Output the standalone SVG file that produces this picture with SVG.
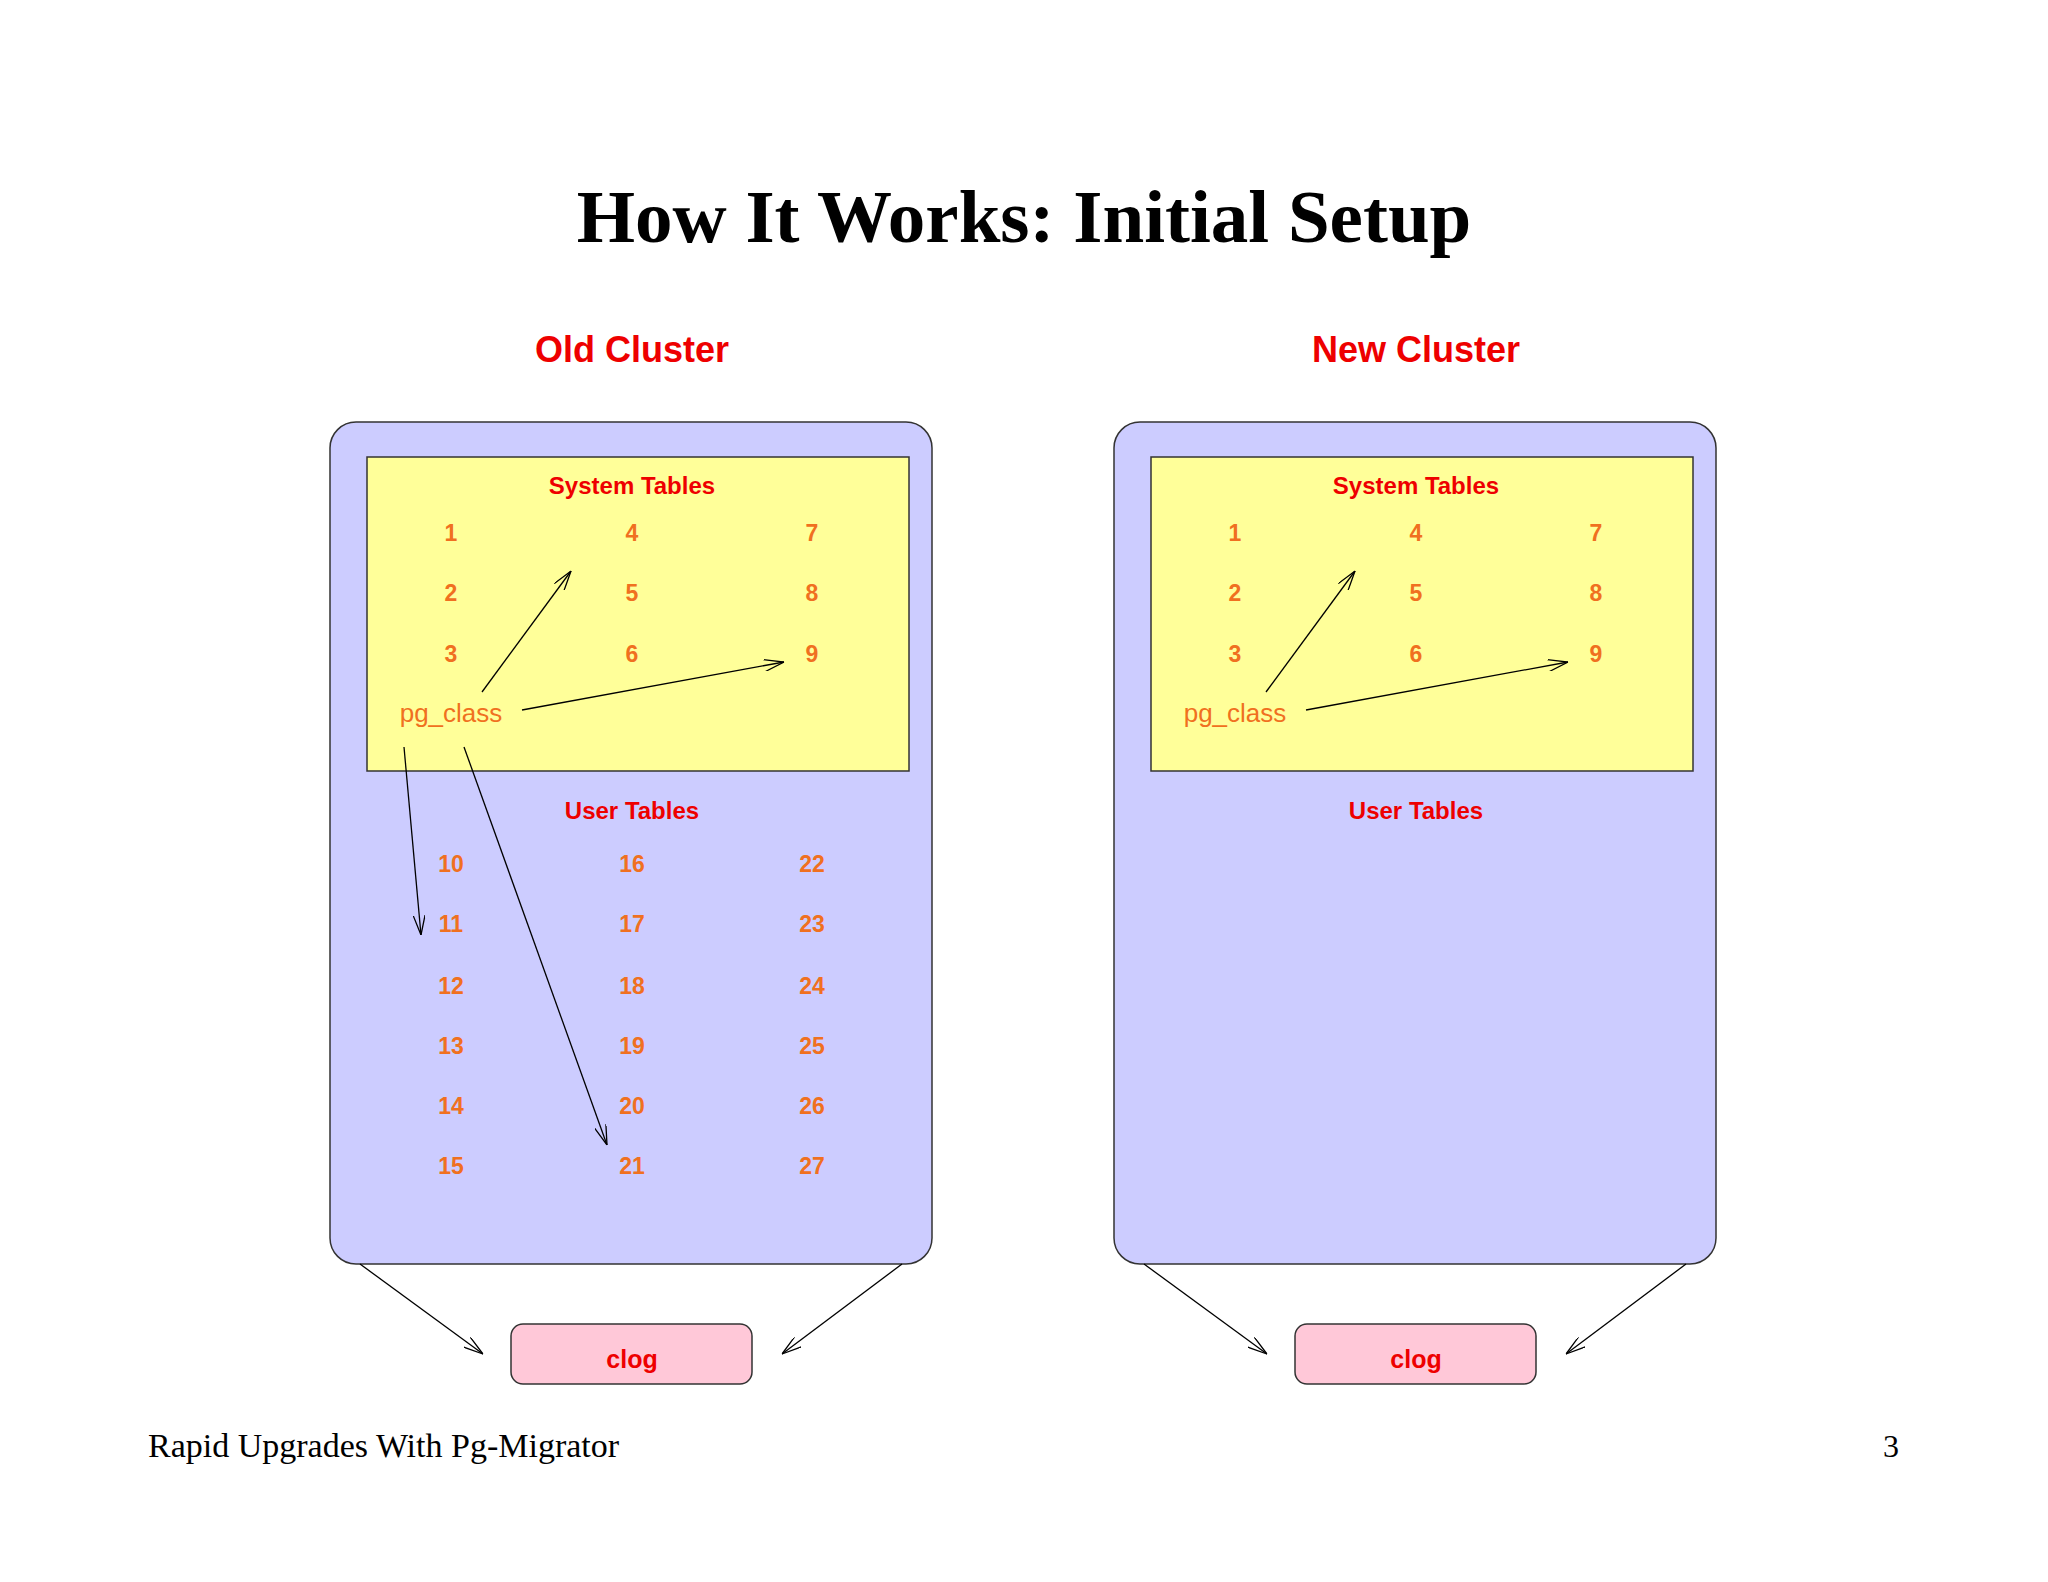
<svg xmlns="http://www.w3.org/2000/svg" width="2048" height="1582" viewBox="0 0 2048 1582">
<defs>
<marker id="ah" viewBox="0 0 20 12" refX="20" refY="6" markerWidth="20" markerHeight="12" markerUnits="userSpaceOnUse" orient="auto">
<path d="M0,0 L20,6 L0,12" fill="none" stroke="#000" stroke-width="1.3"/>
</marker>
<style>
.outer{fill:#ccccff;stroke:#333;stroke-width:1.5}
.sys{fill:#ffff99;stroke:#333;stroke-width:1.5}
.clog{fill:#ffc8d8;stroke:#333;stroke-width:1.5}
.h{font-family:"Liberation Sans",Arial,sans-serif;font-weight:bold;fill:#ee0000;text-anchor:middle}
.n{font-family:"Liberation Sans",Arial,sans-serif;font-weight:bold;fill:#f07020;font-size:23px;text-anchor:middle}
.p{font-family:"Liberation Sans",Arial,sans-serif;fill:#f07020;font-size:26px;text-anchor:middle}
.c line{stroke:#000;stroke-width:1.3;marker-end:url(#ah)}
</style>
</defs>
<rect width="2048" height="1582" fill="#fff"/>
<text x="1024" y="242" font-family="Liberation Serif,serif" font-weight="bold" font-size="75" text-anchor="middle" fill="#000">How It Works: Initial Setup</text>
<text class="h" x="632" y="362" font-size="36">Old Cluster</text>
<text class="h" x="1416" y="362" font-size="36">New Cluster</text>
<g id="old">
<rect class="outer" x="330" y="422" width="602" height="842" rx="26"/>
<rect class="sys" x="367" y="457" width="542" height="314"/>
<text class="h" x="632" y="494" font-size="24">System Tables</text>
<text class="n" x="451" y="541">1</text><text class="n" x="632" y="541">4</text><text class="n" x="812" y="541">7</text>
<text class="n" x="451" y="601">2</text><text class="n" x="632" y="601">5</text><text class="n" x="812" y="601">8</text>
<text class="n" x="451" y="662">3</text><text class="n" x="632" y="662">6</text><text class="n" x="812" y="662">9</text>
<text class="p" x="451" y="722">pg_class</text>
<text class="h" x="632" y="819" font-size="24">User Tables</text>
<text class="n" x="451" y="872">10</text><text class="n" x="632" y="872">16</text><text class="n" x="812" y="872">22</text>
<text class="n" x="451" y="932">11</text><text class="n" x="632" y="932">17</text><text class="n" x="812" y="932">23</text>
<text class="n" x="451" y="994">12</text><text class="n" x="632" y="994">18</text><text class="n" x="812" y="994">24</text>
<text class="n" x="451" y="1054">13</text><text class="n" x="632" y="1054">19</text><text class="n" x="812" y="1054">25</text>
<text class="n" x="451" y="1114">14</text><text class="n" x="632" y="1114">20</text><text class="n" x="812" y="1114">26</text>
<text class="n" x="451" y="1174">15</text><text class="n" x="632" y="1174">21</text><text class="n" x="812" y="1174">27</text>
</g>
<g id="old-clog">
<rect class="clog" x="511" y="1324" width="241" height="60" rx="12"/>
<text class="h" x="632" y="1368" font-size="25">clog</text>
</g>
<g id="new">
<rect class="outer" x="1114" y="422" width="602" height="842" rx="26"/>
<rect class="sys" x="1151" y="457" width="542" height="314"/>
<text class="h" x="1416" y="494" font-size="24">System Tables</text>
<text class="n" x="1235" y="541">1</text><text class="n" x="1416" y="541">4</text><text class="n" x="1596" y="541">7</text>
<text class="n" x="1235" y="601">2</text><text class="n" x="1416" y="601">5</text><text class="n" x="1596" y="601">8</text>
<text class="n" x="1235" y="662">3</text><text class="n" x="1416" y="662">6</text><text class="n" x="1596" y="662">9</text>
<text class="p" x="1235" y="722">pg_class</text>
<text class="h" x="1416" y="819" font-size="24">User Tables</text>
</g>
<g id="new-clog">
<rect class="clog" x="1295" y="1324" width="241" height="60" rx="12"/>
<text class="h" x="1416" y="1368" font-size="25">clog</text>
</g>
<g id="connectors" class="c">
<line x1="482" y1="692" x2="571" y2="571"/>
<line x1="522" y1="710" x2="784" y2="662"/>
<line x1="404" y1="747" x2="421" y2="935"/>
<line x1="464" y1="747" x2="607" y2="1145"/>
<line x1="360" y1="1264" x2="483" y2="1354"/>
<line x1="902" y1="1264" x2="782" y2="1354"/>
<line x1="1266" y1="692" x2="1355" y2="571"/>
<line x1="1306" y1="710" x2="1568" y2="662"/>
<line x1="1144" y1="1264" x2="1267" y2="1354"/>
<line x1="1686" y1="1264" x2="1566" y2="1354"/>
</g>
<text x="148" y="1457" font-family="Liberation Serif,serif" font-size="34" fill="#000">Rapid Upgrades With Pg-Migrator</text>
<text x="1899" y="1457" font-family="Liberation Serif,serif" font-size="32" fill="#000" text-anchor="end">3</text>
</svg>
